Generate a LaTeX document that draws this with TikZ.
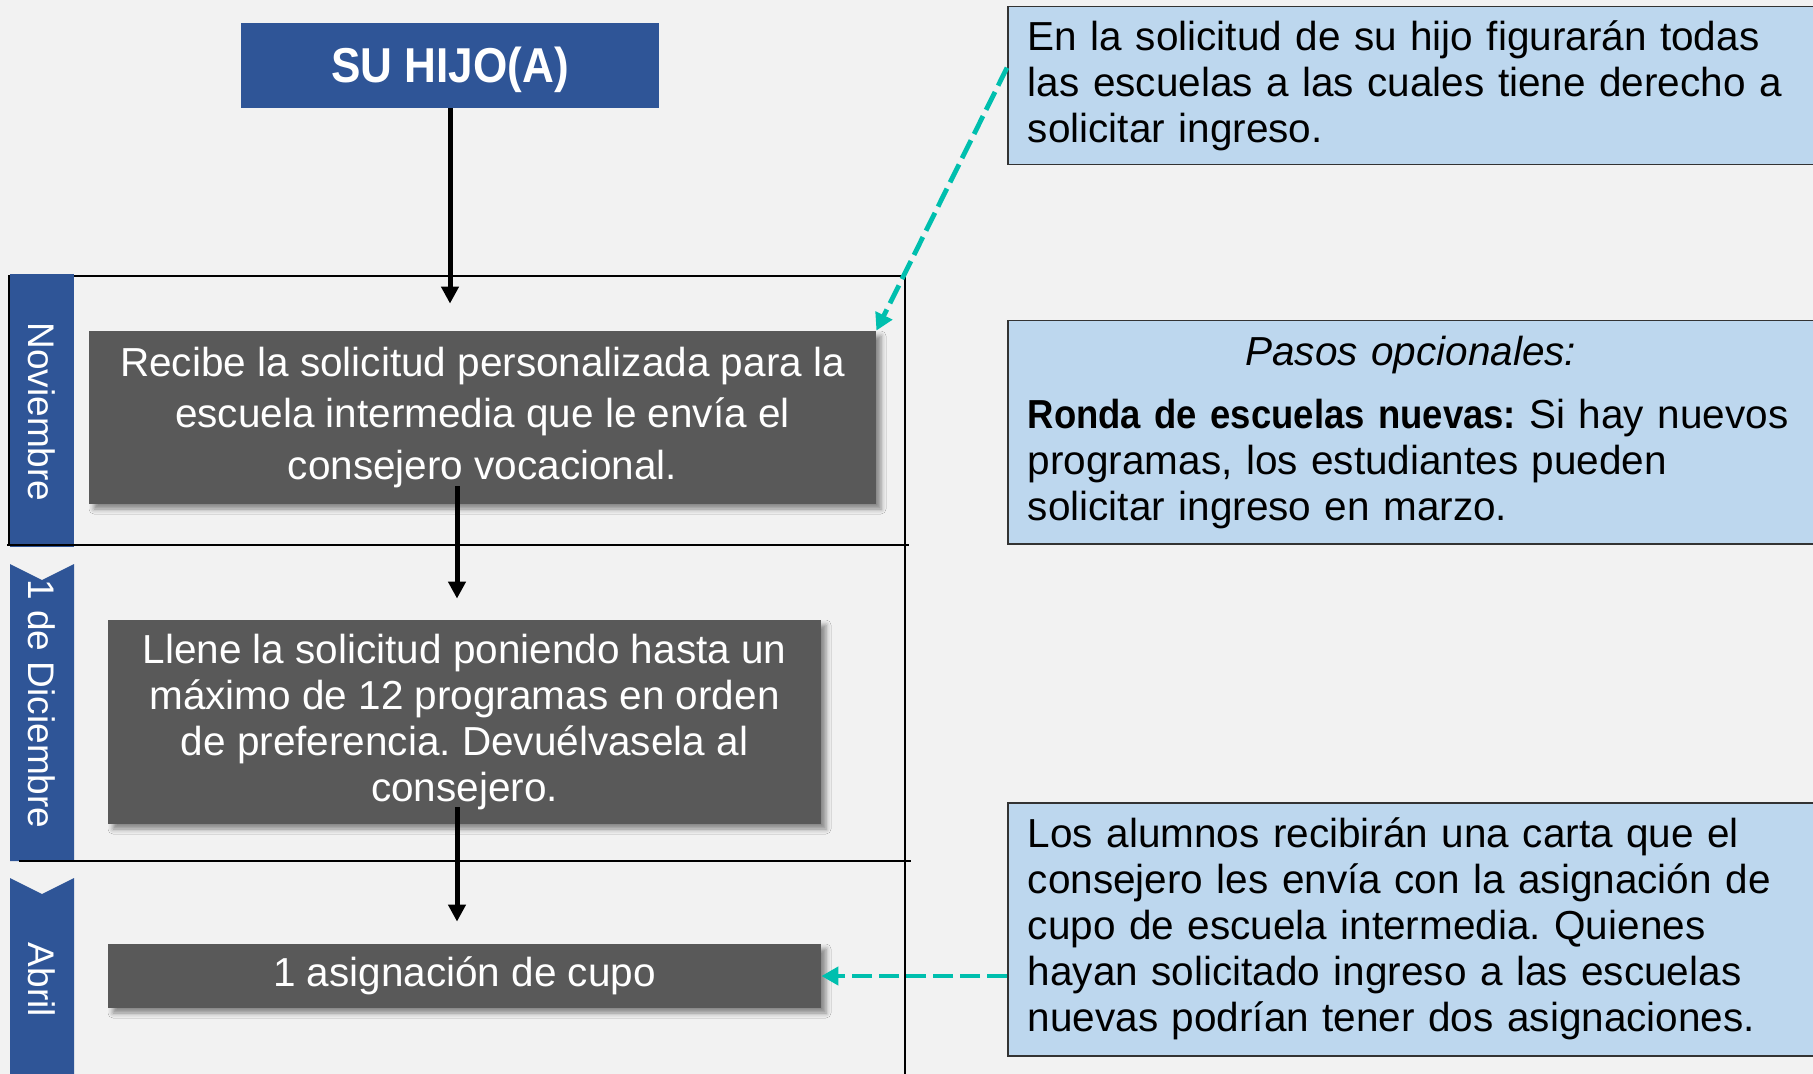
\documentclass[tikz,border=0pt]{standalone}
\usepackage{fontspec}
\setmainfont{Liberation Sans}[BoldFeatures={FakeStretch=0.9}]
\usepackage{tikz}
\usetikzlibrary{arrows.meta, shadows.blur, calc}
\frenchspacing

\definecolor{fondo}{HTML}{F2F2F2}
\definecolor{azul}{HTML}{2F5597}
\definecolor{celeste}{HTML}{BDD7EE}
\definecolor{gris}{HTML}{595959}
\definecolor{turquesa}{RGB}{0,191,174}

\begin{document}
\begin{tikzpicture}[x=0.5pt, y=-0.5pt,
  paso/.style={fill=gris, text=white, align=center, inner sep=0pt,
    font=\fontsize{20.25}{23}\selectfont,
    blur shadow={shadow xshift=2.5pt, shadow yshift=-2.5pt, shadow blur radius=2.5pt,
      shadow opacity=45}},
  nota/.style={draw=black!80, line width=0.75pt, fill=celeste, anchor=north west,
    text width=383pt, align=left, inner xsep=10pt, inner ysep=0pt,
    font=\fontsize{20.25}{23}\selectfont},
  mes/.style={text=white, rotate=-90, font=\fontsize{18.5}{21}\selectfont},
  flecha/.style={-{Triangle[length=8.5pt,width=8.5pt]}, line width=2.5pt},
  guia/.style={-{Triangle[length=8.5pt,width=9pt]}, turquesa, line width=2.4pt,
    dash pattern=on 10pt off 3.5pt}]
% Background
\fill[fondo] (0,0) rectangle (1813,1074);
\useasboundingbox (0,0) rectangle (1813,1074);

% Month tabs
\fill[azul] (10,274) rectangle (74,547);
\fill[azul] (10,564) -- (42,580) -- (74,564) -- (74,861) -- (10,861) -- cycle;
\fill[azul] (10,878) -- (42,894) -- (74,878) -- (74,1074) -- (10,1074) -- cycle;
\node[mes] (nov) at (42,412) {Noviembre};
\node[mes] (dic) at (42,704) {1 de Diciembre};
\node[mes] (abr) at (42,980) {Abril};

% Timeline frame
\draw[line width=1pt] (74,276) -- (905,276) -- (905,1074);
\draw[line width=1pt] (9,275) -- (9,545);
\draw[line width=0.8pt] (7,545) -- (909,545);
\draw[line width=0.8pt] (19,861) -- (911,861);

% Steps
\node[fill=azul, text=white, minimum width=209pt, minimum height=42.5pt,
  text height=17.5pt, text depth=0pt,
  font=\bfseries\fontsize{24.5}{28}\selectfont] (hijo) at (450,65.5) {SU HIJO(A)};
\node[paso, minimum width=393.5pt, minimum height=86.5pt,
  font=\fontsize{20.25}{25.7}\selectfont] (recibe) at (482.5,417.5)
  {Recibe la solicitud personalizada para la\\ escuela intermedia que le envía el\\ consejero vocacional.};
\node[paso, minimum width=356.5pt, minimum height=102pt] (llene) at (464.5,722)
  {Llene la solicitud poniendo hasta un\\ máximo de 12 programas en orden\\ de preferencia. Devuélvasela al\\ consejero.};
\node[paso, minimum width=356.5pt, minimum height=32pt] (cupo) at (464.5,976)
  {1 asignación de cupo};

% Notes
\node[nota, minimum height=79pt] (nota1) at (1007,6)
  {En la solicitud de su hijo figurarán todas\\ las escuelas a las cuales tiene derecho a\\ solicitar ingreso.};
\node[nota, minimum height=111.5pt] (nota2) at (1007,320)
  {\makebox[\linewidth]{\itshape Pasos opcionales:}\\[8.5pt]
   \textbf{Ronda de escuelas nuevas:} Si hay nuevos\\ programas, los estudiantes pueden\\ solicitar ingreso en marzo.};
\node[nota, minimum height=126.5pt] (nota3) at (1007,802)
  {Los alumnos recibirán una carta que el\\ consejero les envía con la asignación de\\ cupo de escuela intermedia. Quienes\\ hayan solicitado ingreso a las escuelas\\ nuevas podrían tener dos asignaciones.};

% Arrows
\draw[flecha, shorten >=13.5pt] (hijo.south) -- (hijo.south |- recibe.north);
\draw[flecha, shorten >=10.5pt] ($(recibe.south)+(-25.5,-18)$) -- ($(llene.north)+(-7.5,0)$);
\draw[flecha, shorten >=11pt] ($(llene.south)+(-7.5,-17)$) -- ($(cupo.north)+(-7.5,0)$);
\draw[guia] ($(nota1.west)+(0,-18)$) -- (recibe.north east);
\draw[guia] (nota3.west |- cupo.east) -- (cupo.east);
\end{tikzpicture}
\end{document}
